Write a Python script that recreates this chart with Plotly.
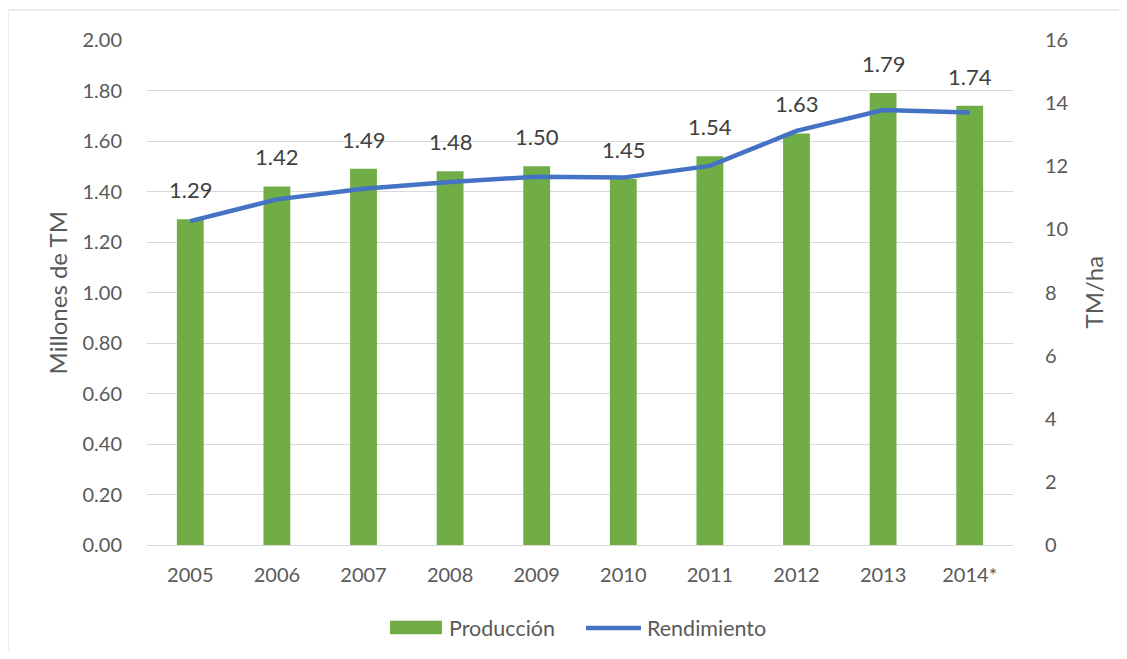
import plotly.graph_objects as go

years = ["2005", "2006", "2007", "2008", "2009", "2010", "2011", "2012", "2013", "2014*"]
produccion = [1.29, 1.42, 1.49, 1.48, 1.50, 1.45, 1.54, 1.63, 1.79, 1.74]
rendimiento = [10.26, 10.95, 11.29, 11.50, 11.67, 11.64, 12.01, 13.12, 13.78, 13.70]
left_ticks = [0, 0.2, 0.4, 0.6, 0.8, 1.0, 1.2, 1.4, 1.6, 1.8, 2.0]
right_ticks = [0, 2, 4, 6, 8, 10, 12, 14, 16]

FONT = "Lato"
TXT = "#595959"
GREEN = "#70AD47"
BLUE = "#4472C4"

fig = go.Figure()
fig.add_trace(go.Bar(
    x=years, y=produccion, name="Producción",
    marker=dict(color=GREEN, line=dict(width=0)),
    width=0.31, showlegend=False, hoverinfo="x+y",
))
fig.add_trace(go.Scatter(
    x=years, y=rendimiento, name="Rendimiento", yaxis="y2",
    mode="lines", line=dict(color=BLUE, width=4.5), showlegend=False,
))

# data labels (x given as category index on the category axis)
annotations = [
    dict(x=i, y=v, xref="x", yref="y", text=f"{v:.2f}", showarrow=False,
         yanchor="bottom", yshift=14, font=dict(family=FONT, size=22, color="#404040"))
    for i, v in enumerate(produccion)
]
# axis titles
annotations += [
    dict(x=-0.1028, y=0.5, xref="paper", yref="paper", text="Millones de TM", showarrow=False,
         textangle=-90, xanchor="center", yanchor="middle",
         font=dict(family=FONT, size=24, color=TXT)),
    dict(x=1.0924, y=0.5, xref="paper", yref="paper", text="TM/ha", showarrow=False,
         textangle=-90, xanchor="center", yanchor="middle",
         font=dict(family=FONT, size=24, color=TXT)),
]
# custom legend
annotations += [
    dict(x=0.3464, y=-0.1644, xref="paper", yref="paper", text="Producción", showarrow=False,
         xanchor="left", yanchor="middle", font=dict(family=FONT, size=21.5, color=TXT)),
    dict(x=0.5751, y=-0.1644, xref="paper", yref="paper", text="Rendimiento", showarrow=False,
         xanchor="left", yanchor="middle", font=dict(family=FONT, size=21.5, color=TXT)),
]

shapes = [
    dict(type="rect", xref="paper", yref="paper",
         x0=-0.1605, x1=1.25, y0=-0.35, y1=1.0594,
         line=dict(color="#D9D9D9", width=1), fillcolor="rgba(0,0,0,0)", layer="below"),
    dict(type="rect", xref="paper", yref="paper", x0=0.2806, x1=0.3406, y0=-0.1768, y1=-0.1499,
         line=dict(width=0), fillcolor=GREEN),
    dict(type="line", xref="paper", yref="paper", x0=0.5069, x1=0.5704, y0=-0.1644, y1=-0.1644,
         line=dict(color=BLUE, width=4.5)),
]

fig.update_layout(
    width=1111, height=643,
    margin=dict(l=139, r=106, t=32, b=106),
    paper_bgcolor="white", plot_bgcolor="white",
    font=dict(family=FONT, size=20, color=TXT),
    showlegend=False,
    xaxis=dict(type="category", categoryorder="array", categoryarray=years,
               range=[-0.5, len(years) - 0.5],
               showgrid=False, showline=True, linecolor="#D9D9D9", linewidth=1,
               ticks="", tickfont=dict(family=FONT, size=20, color=TXT), ticklabelstandoff=12),
    yaxis=dict(range=[0, 2.0], tickvals=left_ticks, tickformat=".2f",
               showgrid=True, gridcolor="#D9D9D9", gridwidth=1, zeroline=False,
               tickfont=dict(family=FONT, size=20, color=TXT), ticks="", ticklabelstandoff=24),
    yaxis2=dict(range=[0, 16], tickvals=right_ticks, overlaying="y", side="right",
                showgrid=False, zeroline=False,
                tickfont=dict(family=FONT, size=20, color=TXT), ticks="", ticklabelstandoff=31),
    annotations=annotations,
    shapes=shapes,
)

fig.write_html("out.html")
